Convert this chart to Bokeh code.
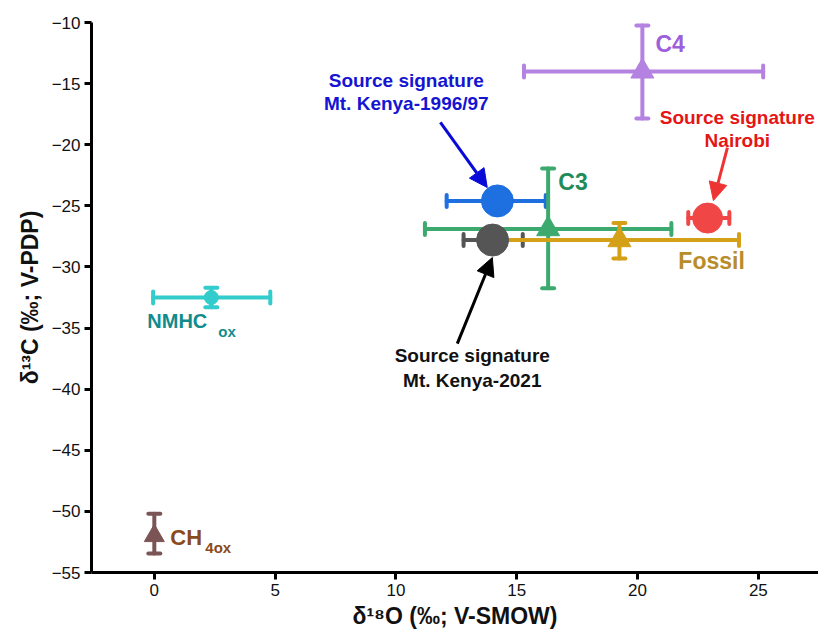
from bokeh.plotting import figure
from bokeh.models import Whisker, TeeHead, Arrow, NormalHead, ColumnDataSource, Range1d, FixedTicker
from bokeh.core.properties import value
from bokeh.embed import file_html
from bokeh.resources import INLINE

FONT = "Liberation Sans"

# ---- data ----
names = ["Mt. Kenya-2021", "Mt. Kenya-1996/97", "Nairobi", "NMHCox", "CH4ox", "C3", "Fossil", "C4"]
d18O = [14.0, 14.2, 22.9, 2.36, 0.0, 16.3, 19.25, 20.2]
d13C = [-27.8, -24.6, -26.0, -32.5, -52.0, -26.9, -27.8, -14.0]
x_lo = [12.8, 12.1, 22.1, -0.05, None, 11.2, 14.3, 15.3]
x_hi = [15.25, 16.2, 23.8, 4.8, None, 21.4, 24.2, 25.2]
y_lo = [None, None, None, -33.3, -53.45, -31.75, -29.3, -17.85]
y_hi = [None, None, None, -31.7, -50.2, -21.95, -26.4, -10.25]
markers = ["circle", "circle", "circle", "circle", "triangle", "triangle", "triangle", "triangle"]
msizes = [32, 32, 30, 14, 20, 23, 23, 23]
mcolors = ["#555555", "#1e6fe0", "#f04646", "#33cccc", "#7b5555", "#3caa6e", "#d4a017", "#b482e1"]

x_ticks = [0, 5, 10, 15, 20, 25]
y_ticks = [-10, -15, -20, -25, -30, -35, -40, -45, -50, -55]

# text labels
lab_x = [20.74, 16.72, 21.69, 10.43, 10.43, 24.13, 24.13, 13.16, 13.16, -0.29, 0.66]
lab_y = [-11.72, -23.09, -29.48, -14.75, -16.63, -17.77, -19.66, -37.25, -39.3, -34.39, -52.14]
lab_t = ["C4", "C3", "Fossil", "Source signature", "Mt. Kenya-1996/97",
         "Source signature", "Nairobi", "Source signature", "Mt. Kenya-2021", "NMHC", "CH"]
lab_c = ["#9d5fdb", "#1f8a5a", "#b88c28", "#1414d2", "#1414d2", "#e61515", "#e61515",
         "#111111", "#111111", "#118c8c", "#8b4a1c"]
lab_s = ["23px", "23px", "23px", "19px", "19px", "19px", "19px", "19px", "19px", "20px", "22px"]
lab_a = ["left", "left", "left", "center", "center", "center", "center", "center", "center", "left", "left"]

sub_x = [2.65, 2.11]
sub_y = [-35.29, -52.96]
sub_t = ["ox", "4ox"]
sub_c = ["#118c8c", "#8b4a1c"]

arr_x0 = [11.84, 23.72, 12.54]
arr_y0 = [-18.18, -20.23, -36.27]
arr_x1 = [13.78, 23.14, 13.99]
arr_y1 = [-23.5, -24.57, -29.23]
arr_c = ["#0a0ad8", "#ee3333", "#000000"]

x_title = "\u03b4\u00b9\u2078O (\u2030; V-SMOW)"
y_title = "\u03b4\u00b9\u00b3C (\u2030; V-PDP)"

# ---- figure ----
p = figure(width=818, height=633, output_backend="svg", toolbar_location=None,
           x_range=Range1d(-2.6, 27.49), y_range=Range1d(-55, -10),
           min_border_left=91, min_border_right=0, min_border_top=22, min_border_bottom=61)
p.outline_line_color = None
p.xgrid.visible = False
p.ygrid.visible = False

for ax in (p.xaxis[0], p.yaxis[0]):
    ax.axis_line_width = 3
    ax.axis_line_color = "black"
    ax.major_tick_line_width = 3
    ax.major_tick_line_color = "black"
    ax.major_tick_out = 7
    ax.major_tick_in = 0
    ax.minor_tick_line_color = None
    ax.major_label_text_font = FONT
    ax.major_label_text_font_size = "17px"
    ax.major_label_text_color = "#111111"
    ax.axis_label_text_font = FONT
    ax.axis_label_text_font_size = "23px"
    ax.axis_label_text_font_style = "bold"
    ax.axis_label_text_color = "#111111"

p.xaxis.ticker = FixedTicker(ticks=x_ticks)
p.yaxis.ticker = FixedTicker(ticks=y_ticks)
p.yaxis.major_label_overrides = {t: "\u2212" + str(abs(t)) for t in y_ticks}
p.xaxis.major_label_standoff = 4
p.yaxis.major_label_standoff = 4
p.xaxis.axis_label = x_title
p.yaxis.axis_label = y_title
p.xaxis.axis_label_standoff = 4
p.yaxis.axis_label_standoff = 6

for i in range(len(names)):
    c = mcolors[i]
    if x_lo[i] is not None:
        src = ColumnDataSource(dict(y=[d13C[i]], lo=[x_lo[i]], hi=[x_hi[i]]))
        p.add_layout(Whisker(source=src, base="y", lower="lo", upper="hi", dimension="width",
                     line_color=c, line_width=4, line_cap="round",
                     lower_head=TeeHead(size=12, line_color=c, line_width=4, line_cap="round"),
                     upper_head=TeeHead(size=12, line_color=c, line_width=4, line_cap="round")))
    if y_lo[i] is not None:
        src = ColumnDataSource(dict(x=[d18O[i]], lo=[y_lo[i]], hi=[y_hi[i]]))
        p.add_layout(Whisker(source=src, base="x", lower="lo", upper="hi", dimension="height",
                     line_color=c, line_width=4, line_cap="round",
                     lower_head=TeeHead(size=12, line_color=c, line_width=4, line_cap="round"),
                     upper_head=TeeHead(size=12, line_color=c, line_width=4, line_cap="round")))
    p.scatter([d18O[i]], [d13C[i]], marker=markers[i], size=msizes[i],
              fill_color=c, line_color=c, line_width=1)

for i in range(len(lab_t)):
    p.text([lab_x[i]], [lab_y[i]], text=[lab_t[i]], text_color=lab_c[i],
           text_font=value(FONT), text_font_style="bold", text_font_size=lab_s[i],
           text_align=lab_a[i], text_baseline="middle")

for i in range(len(sub_t)):
    p.text([sub_x[i]], [sub_y[i]], text=[sub_t[i]], text_color=sub_c[i],
           text_font=value(FONT), text_font_style="bold", text_font_size="15px",
           text_align="left", text_baseline="middle")

for i in range(len(arr_c)):
    p.add_layout(Arrow(end=NormalHead(size=18, fill_color=arr_c[i], line_color=arr_c[i]),
                       x_start=arr_x0[i], y_start=arr_y0[i], x_end=arr_x1[i], y_end=arr_y1[i],
                       line_color=arr_c[i], line_width=3))

open("out.html", "w").write(file_html(p, INLINE))
